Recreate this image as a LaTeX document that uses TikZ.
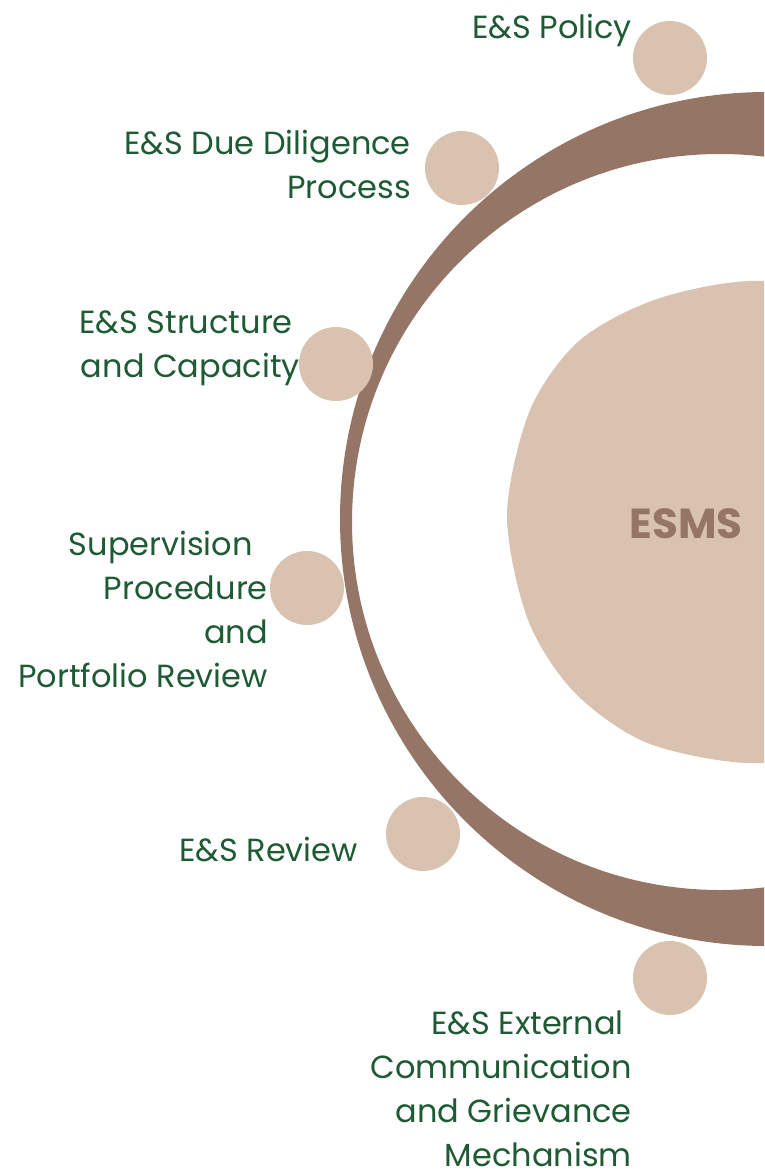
\documentclass[tikz,border=0pt]{standalone}
\usepackage{fontspec}
\setmainfont{Poppins}
\definecolor{ringbrown}{HTML}{957565}
\definecolor{sand}{HTML}{D9C3B0}
\definecolor{leaf}{HTML}{1E5A34}
\begin{document}
\begin{tikzpicture}[x=1pt,y=-1pt,
    dot/.style = {circle,
        minimum size = 74pt,
        inner sep = 0pt,
        fill=sand},
    item/.style = {anchor=north east,
        align=right,
        inner sep=0pt,
        text=leaf,
        font=\fontsize{32}{44}\selectfont}]

\clip (0,0) rectangle (764,1173);

% Centre blob
\fill[sand] plot[smooth cycle] coordinates {
    (764,281) (660,298) (580,340) (530,410)
    (507,515) (528,620) (575,693) (650,744)
    (764,763) (890,730) (990,522) (890,310)};
\node[text=ringbrown, font=\fontsize{42}{42}\selectfont\bfseries] (esms) at (686,524) {ESMS};

% Ring
\fill[ringbrown, even odd rule] (767,519) circle (427) (720,522) circle (368);

% Dots
\node[dot] (d1) at (670,58) {};
\node[dot] (d2) at (462,168) {};
\node[dot] (d3) at (336,364) {};
\node[dot] (d4) at (307,588) {};
\node[dot] (d5) at (423,834) {};
\node[dot] (d6) at (670,978) {};

% Labels
\node[item] (policy) at (632,14) {E\&S Policy};
\node[item] (diligence) at (411,130) {E\&S Due Diligence\\Process};
\node[item] (structure) at (300,311) {E\&S Structure\hspace*{7pt}\\and Capacity};
\node[item] (supervision) at (268,531) {Supervision\hspace*{15pt}\\Procedure\hspace*{8pt}\\and\hspace*{8pt}\\Portfolio Review};
\node[item] (review) at (358,837) {E\&S Review};
\node[item] (external) at (632,1011) {E\&S External\hspace*{8pt}\\Communication\\and Grievance\\Mechanism};

\end{tikzpicture}
\end{document}
